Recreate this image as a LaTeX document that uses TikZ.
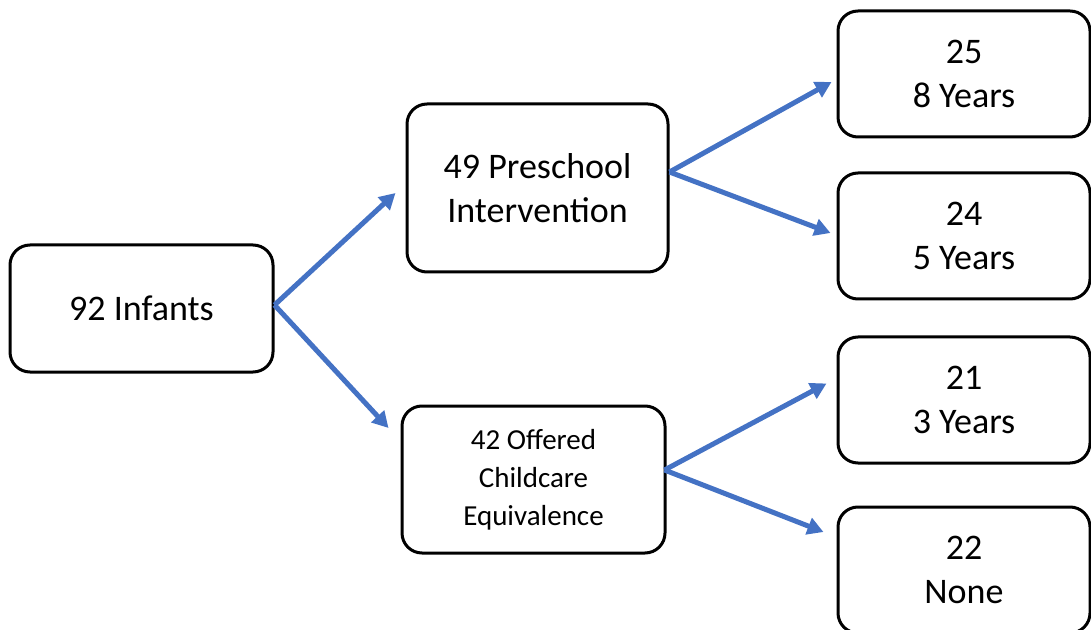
\documentclass[tikz,border=0pt]{standalone}
\usepackage{fontspec}
\setmainfont{Carlito}
\usetikzlibrary{arrows.meta,positioning}
\definecolor{arrowblue}{HTML}{4472C4}
\tikzstyle{arrow} = [line width=2.5pt, arrowblue, -{Triangle[length=8pt,width=8.5pt]}]
\tikzstyle{box} = [draw, line width=1.5pt, rounded corners=10pt, align=center, font=\fontsize{18}{22}\selectfont]
\tikzstyle{outcome} = [box, minimum width=126pt, minimum height=63pt]

\begin{document}
\begin{tikzpicture}[x=0.5pt, y=-0.5pt]
    \useasboundingbox (0,0) rectangle (1091,630);

    \node (infants) [box, minimum width=131.5pt, minimum height=63.5pt] at (141.5,308.5) {92 Infants};
    \node (preschool) [box, minimum width=130.5pt, minimum height=84pt] at (537.5,188) {49 Preschool\\Intervention};
    \node (childcare) [box, minimum width=131.5pt, minimum height=73.5pt, font=\fontsize{14.5}{19}\selectfont] at (533.5,479.5) {42 Offered\\Childcare\\Equivalence};

    \node (eight) [outcome] at (964,74) {25\\8 Years};
    \node (five) [outcome, below=16.5pt of eight] {24\\5 Years};
    \node (three) [outcome, below=17.5pt of five] {21\\3 Years};
    \node (none) [outcome, below=20.5pt of three] {22\\None};

    \draw [arrow] ([shift={(0,-3.5)}]infants.east) -- ([shift={(-10,5)}]preschool.west);
    \draw [arrow] ([shift={(0,-3.5)}]infants.east) -- ([shift={(-12,-51.5)}]childcare.west);
    \draw [arrow] ([shift={(0,-16)}]preschool.east) -- ([shift={(-5,8)}]eight.west);
    \draw [arrow] ([shift={(0,-16)}]preschool.east) -- ([shift={(-6,-3)}]five.west);
    \draw [arrow] ([shift={(-2,-9.5)}]childcare.east) -- ([shift={(-10,-16.5)}]three.west);
    \draw [arrow] ([shift={(-2,-9.5)}]childcare.east) -- ([shift={(-13,-38)}]none.west);

\end{tikzpicture}
\end{document}
